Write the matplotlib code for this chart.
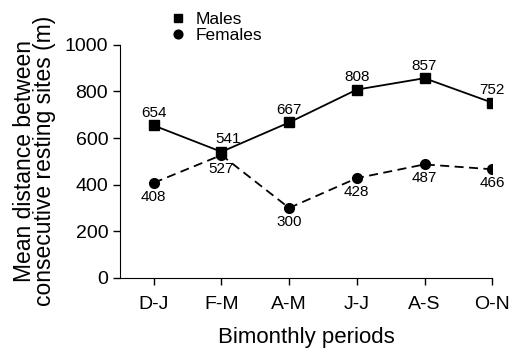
import matplotlib.pyplot as plt

plt.rcParams['font.family'] = ['Liberation Sans', 'DejaVu Sans']

periods = ['D-J', 'F-M', 'A-M', 'J-J', 'A-S', 'O-N']
males = [654, 541, 667, 808, 857, 752]
females = [408, 527, 300, 428, 487, 466]

fig = plt.figure(figsize=(5.17, 3.59), dpi=100)
ax = fig.add_axes([0.232, 0.226, 0.72, 0.649])

x = list(range(len(periods)))
ax.plot(x, males, '-', color='black', lw=1.3, marker='s', ms=7, label='Males')
ax.plot(x, females, '--', color='black', lw=1.3, marker='o', ms=7,
        dashes=(5, 3), label='Females')

# value labels
for i, v in enumerate(males):
    dx = 0.1 if i == 1 else 0
    ax.annotate(str(v), (i + dx, v), xytext=(0, 4), textcoords='offset points',
                ha='center', va='bottom', fontsize=11)
for i, v in enumerate(females):
    ax.annotate(str(v), (i, v), xytext=(0, -5), textcoords='offset points',
                ha='center', va='top', fontsize=11)

ax.set_xlim(-0.5, 5)
ax.set_ylim(0, 1000)
ax.set_xticks(x)
ax.set_xticklabels(periods)
ax.set_yticks([0, 200, 400, 600, 800, 1000])
ax.tick_params(labelsize=14, direction='out', length=5, width=1)
ax.tick_params(axis='x', pad=8)
ax.spines['top'].set_visible(False)
ax.spines['right'].set_visible(False)

ax.set_xlabel('Bimonthly periods', fontsize=16, labelpad=10)
ax.set_ylabel('Mean distance between\nconsecutive resting sites (m)', fontsize=16.5,
              linespacing=0.85, labelpad=6)

ax.legend(loc='lower left', bbox_to_anchor=(0.11, 0.97), frameon=False,
          fontsize=12.5, handlelength=1, handletextpad=0.5, labelspacing=0.05,
          borderpad=0, markerscale=0.9)
for h in ax.get_legend().get_lines():
    h.set_linestyle('none')

fig.savefig('out.png', dpi=100)
